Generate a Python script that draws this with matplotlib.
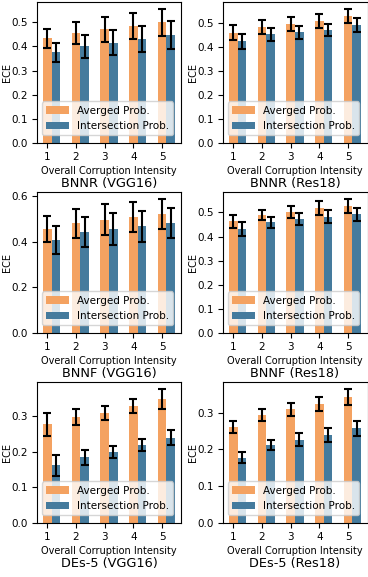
import numpy as np
import matplotlib
matplotlib.use("Agg")
import matplotlib.pyplot as plt

# Data (ECE mean and std per corruption intensity)
intensity = [1, 2, 3, 4, 5]
titles = ["BNNR (VGG16)", "BNNR (Res18)",
          "BNNF (VGG16)", "BNNF (Res18)",
          "DEs-5 (VGG16)", "DEs-5 (Res18)"]

avg_mean = [
    [0.433, 0.456, 0.470, 0.484, 0.499],
    [0.459, 0.482, 0.496, 0.507, 0.529],
    [0.457, 0.483, 0.498, 0.511, 0.524],
    [0.463, 0.490, 0.503, 0.517, 0.528],
    [0.277, 0.298, 0.309, 0.328, 0.349],
    [0.261, 0.294, 0.309, 0.324, 0.343],
]
avg_std = [
    [0.041, 0.047, 0.052, 0.053, 0.057],
    [0.032, 0.030, 0.028, 0.029, 0.030],
    [0.059, 0.064, 0.067, 0.066, 0.066],
    [0.026, 0.022, 0.025, 0.029, 0.029],
    [0.032, 0.022, 0.020, 0.020, 0.028],
    [0.016, 0.017, 0.018, 0.019, 0.022],
]
int_mean = [
    [0.375, 0.401, 0.416, 0.431, 0.446],
    [0.424, 0.452, 0.461, 0.471, 0.493],
    [0.410, 0.442, 0.457, 0.468, 0.483],
    [0.431, 0.459, 0.472, 0.482, 0.492],
    [0.162, 0.184, 0.199, 0.218, 0.240],
    [0.178, 0.212, 0.226, 0.239, 0.257],
]
int_std = [
    [0.041, 0.048, 0.052, 0.053, 0.058],
    [0.031, 0.026, 0.026, 0.024, 0.029],
    [0.061, 0.066, 0.070, 0.067, 0.066],
    [0.028, 0.024, 0.025, 0.027, 0.028],
    [0.029, 0.022, 0.016, 0.017, 0.021],
    [0.014, 0.014, 0.018, 0.019, 0.021],
]

c_avg = "#f4a261"
c_int = "#457b9d"
width = 0.3

W, H = 368, 577
fig = plt.figure(figsize=(W / 100, H / 100), dpi=100)

lefts = [36.5, 222.5]
bottoms = [143, 333, 523]
ax_w, ax_h = 145, 141

x = np.array(intensity)
for i in range(6):
    r, c = divmod(i, 2)
    ax = fig.add_axes([lefts[c] / W, (H - bottoms[r]) / H, ax_w / W, ax_h / H])
    ekw = dict(ecolor="black", elinewidth=1.5, capthick=1.5, capsize=2.6)
    ax.bar(x, avg_mean[i], width, yerr=avg_std[i], color=c_avg,
           label="Averged Prob.", error_kw=ekw)
    ax.bar(x + width, int_mean[i], width, yerr=int_std[i], color=c_int,
           label="Intersection Prob.", error_kw=ekw)
    ax.set_xticks(x)
    ax.tick_params(labelsize=7.5, pad=3)
    ax.set_xlabel("Overall Corruption Intensity", fontsize=7, labelpad=2.5)
    ax.set_ylabel("ECE", fontsize=7)
    ax.yaxis.set_label_coords(-0.17, 0.5)
    ax.text(0.5, -(183 - 143) / ax_h, titles[i], transform=ax.transAxes,
            ha="center", va="center", fontsize=9.3)
    ax.legend(loc="lower left", bbox_to_anchor=(0, 0.02), fontsize=7.5,
              handlelength=2.2)

fig.savefig("out.png", dpi=100)
